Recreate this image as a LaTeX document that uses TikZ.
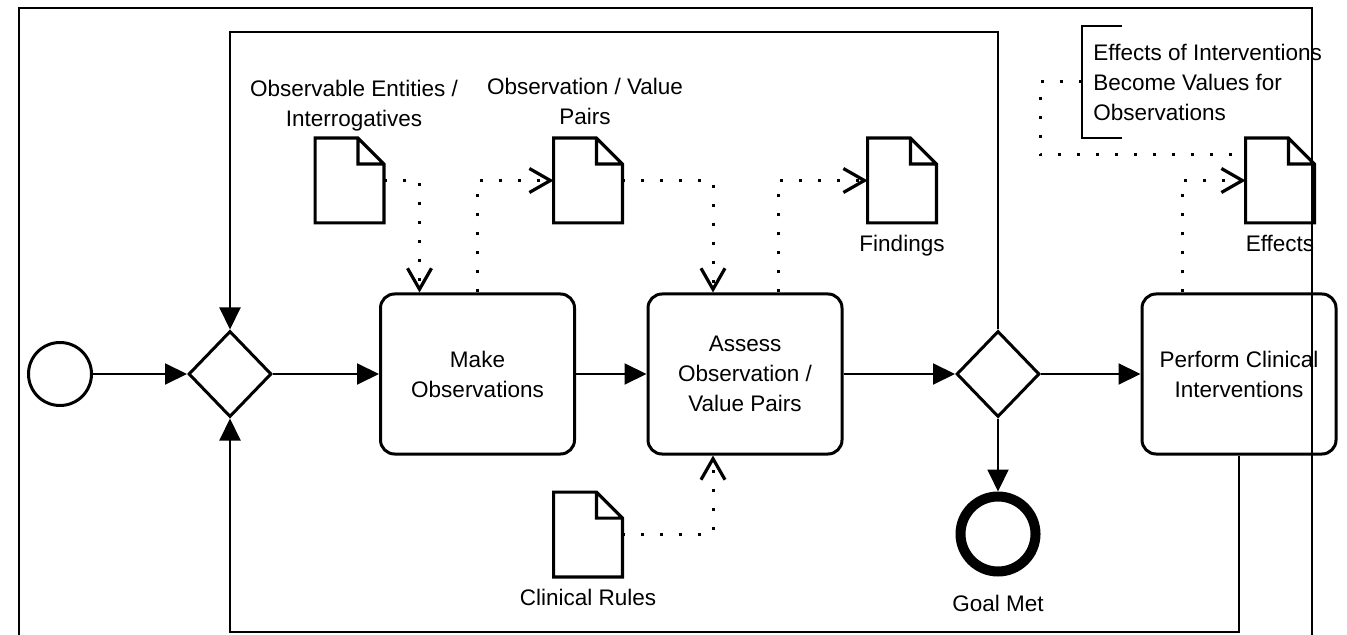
\documentclass[tikz,border=0pt]{standalone}
\usepackage{fontspec}
\setmainfont{Liberation Sans}
\usetikzlibrary{positioning,shapes.geometric,arrows.meta}

\begin{document}
\begin{tikzpicture}[
  x=0.5pt, y=-0.5pt,
  every node/.style={font=\fontsize{11.25}{15}\selectfont},
  task/.style={draw, rounded corners=7pt, line width=1.5pt, align=center, minimum width=97pt, minimum height=80pt},
  gate/.style={draw, diamond, line width=1.5pt, minimum width=41.5pt, minimum height=43pt, inner sep=0pt},
  startev/.style={draw, circle, line width=1.5pt, minimum size=31.5pt, inner sep=0pt},
  endev/.style={draw, circle, line width=5pt, minimum size=37.5pt, inner sep=0pt},
  doc/.style={minimum width=34pt, minimum height=42pt, inner sep=0pt},
  docline/.style={line width=1.6pt, line join=miter},
  lbl/.style={align=center, inner sep=1pt},
  annot/.style={align=left, inner sep=5.5pt, minimum height=55.5pt},
  flow/.style={-{Triangle[length=11pt,width=10.5pt]}, line width=1pt},
  assoc/.style={line width=1.5pt, dash pattern=on 1.5pt off 8pt},
  assocarrow/.style={assoc, -{Straight Barb[length=10.5pt,width=12pt,line width=1.6pt]}}
]
\useasboundingbox (0,0) rectangle (1347,635);

% main flow
\node[startev] (start) at (60,374) {};
\node[gate] (gw1) at (230,374) {};
\node[task] (makeobs) at (477.5,374) {Make\\Observations};
\node[task] (assess) at (745,374) {Assess\\Observation /\\Value Pairs};
\node[gate] (gw2) at (998,374) {};
\node[task] (perform) at (1239,374) {Perform Clinical\\Interventions};
\node[endev] (goal) at (998,534) {};
\node[lbl, below=8pt of goal] (goallbl) {Goal Met};

% data objects
\node[doc] (d1) at (349.5,180.5) {};
\node[doc] (d2) at (588,180.5) {};
\node[doc] (d3) at (902,180.5) {};
\node[doc] (d4) at (1280,180.5) {};
\node[doc] (d5) at (588,534.5) {};
\foreach \d in {d1,d2,d3,d4,d5}
  \draw[docline] (\d.south west) -- (\d.north west) -- ([xshift=-13pt]\d.north east)
    -- ([yshift=-13pt]\d.north east) -- (\d.south east) -- cycle
    ([xshift=-13pt]\d.north east) |- ([yshift=-13pt]\d.north east);

\node[lbl] (l1) at (354,106) {Observable Entities /\\Interrogatives};
\node[lbl] (l2) at (585,101) {Observation / Value\\Pairs};
\node[lbl, below=5pt of d3] (l3) {Findings};
\node[lbl, below=5pt of d4] (l4) {Effects};
\node[lbl, below=5pt of d5] (l5) {Clinical Rules};

% annotation
\node[annot, anchor=west] (ann) at (1082,82) {Effects of Interventions\\Become Values for\\Observations};
\draw[line width=1.25pt] ([xshift=20pt]ann.north west) -- (ann.north west)
  -- (ann.south west) -- ([xshift=20pt]ann.south west);

% sequence flows
\draw[flow] (start) -- (gw1);
\draw[flow] (gw1) -- (makeobs);
\draw[flow] (makeobs) -- (assess);
\draw[flow] (assess) -- (gw2);
\draw[flow] (gw2) -- (perform);
\draw[flow] (gw2) -- (goal);
\coordinate (looptop) at (230,32);
\coordinate (loopbot) at (230,632);
\draw[flow] (gw2.north) |- (looptop) -- (gw1.north);
\draw[flow] (perform.south) |- (loopbot) -- (gw1.south);

% data associations
\draw[assocarrow] (d1.east) -| ([xshift=-29pt]makeobs.north);
\draw[assocarrow] (makeobs.north) |- (d2.west);
\draw[assocarrow] (d2.east) -| ([xshift=-16pt]assess.north);
\draw[assocarrow] ([xshift=16.5pt]assess.north) |- (d3.west);
\draw[assocarrow] (d5.east) -| ([xshift=-16pt]assess.south);
\draw[assocarrow] ([xshift=-28.5pt]perform.north) |- (d4.west);
\draw[assoc] (ann.west) -- ++(-42,0) |- ([yshift=12.75pt]d4.west);

% pool frame
\draw[line width=1.2pt] (19,635) -- (19,8) -- (1312,8) -- (1312,635);
\end{tikzpicture}
\end{document}
